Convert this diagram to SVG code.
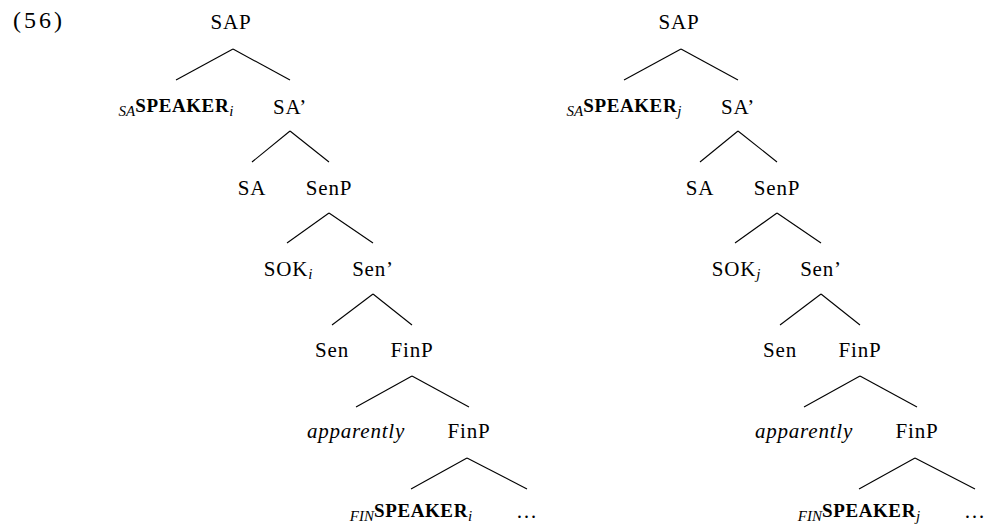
<svg xmlns="http://www.w3.org/2000/svg" width="993" height="528" viewBox="0 0 993 528" font-family="'Liberation Serif', 'DejaVu Serif', serif">
<style>
  text { font-family: "Liberation Serif", "DejaVu Serif", serif; fill: #000; }
  .lbl { font-size: 21px; text-anchor: middle; letter-spacing: 0.8px; }
  .it { font-style: italic; }
  .sub { font-size: 15px; font-style: italic; letter-spacing: 0; }
  .sc { font-size: 19px; font-weight: bold; letter-spacing: 0.6px; }
  .num { font-size: 24px; letter-spacing: 3px; }
  .edges line { stroke: #000; stroke-width: 1.1; }
</style>
<rect width="993" height="528" fill="#fff"/>
<text class="num" x="13" y="28">(56)</text>

<g id="tree-left">
  <g id="L-SAP"><text class="lbl" x="231" y="29">SAP</text></g>
  <g id="L-saSpeaker"><text class="lbl" x="176" y="116"><tspan class="sub">SA</tspan><tspan class="sc" dy="-4">SPEAKER</tspan><tspan class="sub" dy="4">i</tspan></text></g>
  <g id="L-SAbar"><text class="lbl" x="290" y="114">SA’</text></g>
  <g id="L-SA"><text class="lbl" x="252" y="195">SA</text></g>
  <g id="L-SenP"><text class="lbl" x="329" y="195">SenP</text></g>
  <g id="L-SOK"><text class="lbl" x="288" y="276">SOK<tspan class="sub" dy="3">i</tspan></text></g>
  <g id="L-Senbar"><text class="lbl" x="373" y="276">Sen’</text></g>
  <g id="L-Sen"><text class="lbl" x="332" y="357">Sen</text></g>
  <g id="L-FinP"><text class="lbl" x="412" y="357">FinP</text></g>
  <g id="L-apparently"><text class="lbl it" x="356" y="438">apparently</text></g>
  <g id="L-FinP2"><text class="lbl" x="469" y="438">FinP</text></g>
  <g id="L-finSpeaker"><text class="lbl" x="411" y="521"><tspan class="sub">FIN</tspan><tspan class="sc" dy="-4">SPEAKER</tspan><tspan class="sub" dy="4">i</tspan></text></g>
  <g id="L-dots"><text class="lbl" x="527" y="518">…</text></g>
</g>

<g id="tree-right">
  <g id="R-SAP"><text class="lbl" x="679" y="29">SAP</text></g>
  <g id="R-saSpeaker"><text class="lbl" x="624" y="116"><tspan class="sub">SA</tspan><tspan class="sc" dy="-4">SPEAKER</tspan><tspan class="sub" dy="4">j</tspan></text></g>
  <g id="R-SAbar"><text class="lbl" x="738" y="114">SA’</text></g>
  <g id="R-SA"><text class="lbl" x="700" y="195">SA</text></g>
  <g id="R-SenP"><text class="lbl" x="777" y="195">SenP</text></g>
  <g id="R-SOK"><text class="lbl" x="736" y="276">SOK<tspan class="sub" dy="3">j</tspan></text></g>
  <g id="R-Senbar"><text class="lbl" x="821" y="276">Sen’</text></g>
  <g id="R-Sen"><text class="lbl" x="780" y="357">Sen</text></g>
  <g id="R-FinP"><text class="lbl" x="860" y="357">FinP</text></g>
  <g id="R-apparently"><text class="lbl it" x="804" y="438">apparently</text></g>
  <g id="R-FinP2"><text class="lbl" x="917" y="438">FinP</text></g>
  <g id="R-finSpeaker"><text class="lbl" x="859" y="521"><tspan class="sub">FIN</tspan><tspan class="sc" dy="-4">SPEAKER</tspan><tspan class="sub" dy="4">j</tspan></text></g>
  <g id="R-dots"><text class="lbl" x="975" y="518">…</text></g>
</g>

<g id="connectors" class="edges">
  <line x1="233" y1="49" x2="176" y2="80"/>
  <line x1="233" y1="49" x2="290" y2="80"/>
  <line x1="290" y1="131" x2="252" y2="162"/>
  <line x1="290" y1="131" x2="329" y2="162"/>
  <line x1="329" y1="213" x2="287" y2="243"/>
  <line x1="329" y1="213" x2="373" y2="243"/>
  <line x1="373" y1="294" x2="332" y2="325"/>
  <line x1="373" y1="294" x2="412" y2="325"/>
  <line x1="412" y1="376" x2="356" y2="407"/>
  <line x1="412" y1="376" x2="469" y2="407"/>
  <line x1="467" y1="458" x2="411" y2="489"/>
  <line x1="467" y1="458" x2="527" y2="489"/>

  <line x1="681" y1="49" x2="624" y2="80"/>
  <line x1="681" y1="49" x2="738" y2="80"/>
  <line x1="738" y1="131" x2="700" y2="162"/>
  <line x1="738" y1="131" x2="777" y2="162"/>
  <line x1="777" y1="213" x2="735" y2="243"/>
  <line x1="777" y1="213" x2="821" y2="243"/>
  <line x1="821" y1="294" x2="780" y2="325"/>
  <line x1="821" y1="294" x2="860" y2="325"/>
  <line x1="860" y1="376" x2="804" y2="407"/>
  <line x1="860" y1="376" x2="917" y2="407"/>
  <line x1="915" y1="458" x2="859" y2="489"/>
  <line x1="915" y1="458" x2="975" y2="489"/>
</g>
</svg>
